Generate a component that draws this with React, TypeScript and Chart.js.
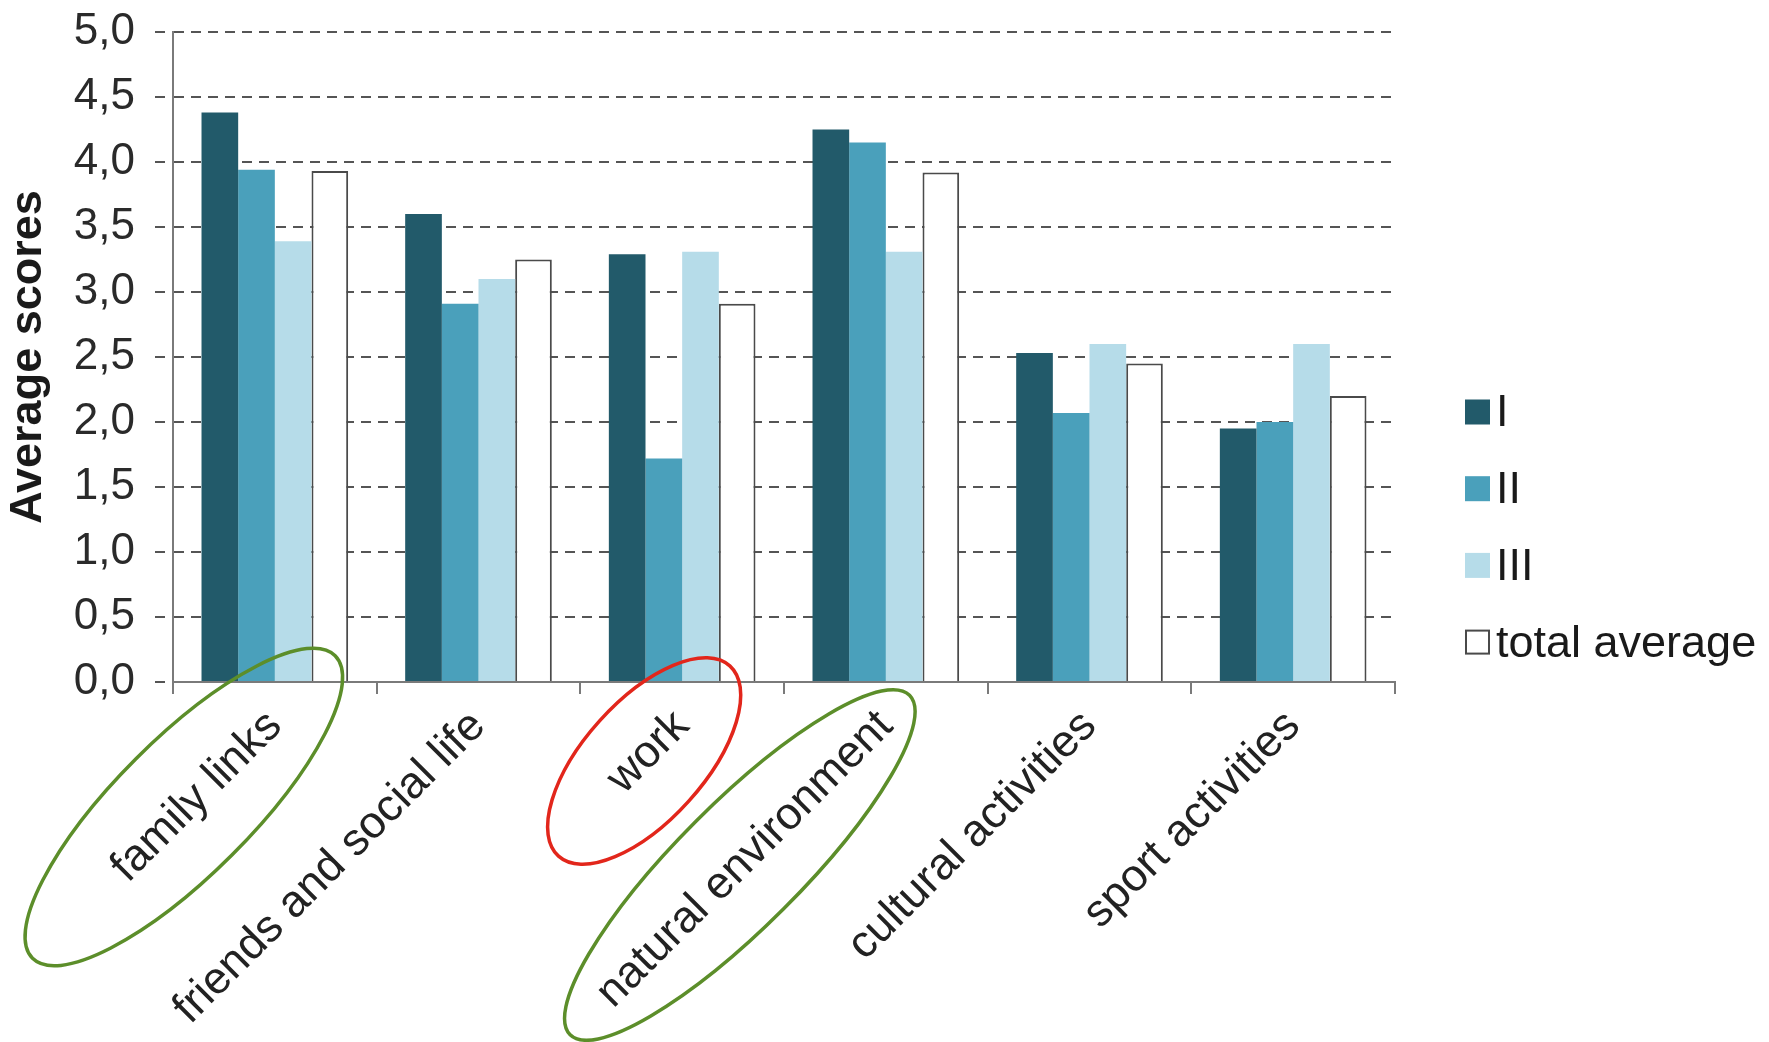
import React, { useEffect, useRef } from 'react';
import { Chart, registerables } from 'chart.js';

Chart.register(...registerables);

// Areas of life that were scored
const categories = [
  'family links',
  'friends and social life',
  'work',
  'natural environment',
  'cultural activities',
  'sport activities',
];

// Average scores per group
const groupI = [4.38, 3.6, 3.29, 4.25, 2.53, 1.95];
const groupII = [3.94, 2.91, 1.72, 4.15, 2.07, 2.0];
const groupIII = [3.39, 3.1, 3.31, 3.31, 2.6, 2.6];
const totalAverage = [3.93, 3.25, 2.91, 3.92, 2.45, 2.2];

const seriesNames = ['I', 'II', 'III', 'total average'];
const yAxisTitle = 'Average scores';
const yMin = 0;
const yMax = 5;
const yStep = 0.5;

// Categories circled below the axis (index into categories)
const positiveHighlights = [0, 3];
const negativeHighlights = [2];

const FONT = "'Liberation Sans', Arial, sans-serif";
const W = 1769;
const H = 1042;

const colors = ['#225A6A', '#4AA0BB', '#B6DCE9', '#FFFFFF'];

// Ellipse geometry relative to the category's tick and the x axis line
const ellipseShape: Record<number, { dx: number; dy: number; rx: number; ry: number; angle: number }> = {
  0: { dx: -91, dy: 125, rx: 214, ry: 68, angle: -45 },
  2: { dx: -38, dy: 79, rx: 128, ry: 60, angle: -48 },
  3: { dx: -146, dy: 183, rx: 240, ry: 62, angle: -45 },
};

const highlightPlugin = {
  id: 'highlightEllipses',
  afterDraw(chart: any) {
    const { ctx, scales } = chart;
    const xs = scales.x;
    const base = chart.chartArea.bottom;
    const draw = (idx: number, color: string) => {
      const s = ellipseShape[idx];
      if (!s) return;
      const cx = xs.getPixelForValue(idx) + s.dx;
      const cy = base + s.dy;
      ctx.save();
      ctx.strokeStyle = color;
      ctx.lineWidth = 3.5;
      ctx.beginPath();
      ctx.ellipse(cx, cy, s.rx, s.ry, (s.angle * Math.PI) / 180, 0, Math.PI * 2);
      ctx.stroke();
      ctx.restore();
    };
    positiveHighlights.forEach((i) => draw(i, '#5C8E2A'));
    negativeHighlights.forEach((i) => draw(i, '#E2261B'));
  },
};

const legendPlugin = {
  id: 'sideLegend',
  afterDraw(chart: any) {
    const { ctx } = chart;
    const x = 1465;
    const top = 412;
    const step = 76.7;
    ctx.save();
    ctx.font = `45px ${FONT}`;
    ctx.textBaseline = 'middle';
    ctx.textAlign = 'left';
    chart.data.datasets.forEach((ds: any, i: number) => {
      const cy = top + i * step;
      const size = 25;
      if (ds.borderWidth) {
        ctx.fillStyle = ds.backgroundColor;
        ctx.fillRect(x + 1, cy - size / 2 + 1, size - 2, size - 2);
        ctx.strokeStyle = ds.borderColor;
        ctx.lineWidth = 2;
        ctx.strokeRect(x + 1, cy - size / 2 + 1, size - 2, size - 2);
      } else {
        ctx.fillStyle = ds.backgroundColor;
        ctx.fillRect(x, cy - size / 2, size, size);
      }
      ctx.fillStyle = '#1a1a1a';
      ctx.fillText(ds.label, x + size + 6, cy + 2);
    });
    ctx.restore();
  },
};

export default function App() {
  const canvasRef = useRef<HTMLCanvasElement | null>(null);

  useEffect(() => {
    const canvas = canvasRef.current;
    if (!canvas) return;
    const series = [groupI, groupII, groupIII, totalAverage];
    const chart = new Chart(canvas, {
      type: 'bar',
      data: {
        labels: categories,
        datasets: series.map((values, i) => ({
          label: seriesNames[i],
          data: values,
          backgroundColor: colors[i],
          borderColor: i === 3 ? '#4A4A4A' : colors[i],
          borderWidth: i === 3 ? 2 : 0,
          categoryPercentage: 0.72,
          barPercentage: 1.0,
        })),
      },
      options: {
        animation: false,
        responsive: false,
        devicePixelRatio: 1,
        layout: { padding: { top: 32, right: W - 1395, left: 0, bottom: 0 } },
        plugins: {
          legend: { display: false },
          tooltip: { enabled: false },
        },
        scales: {
          x: {
            afterFit(scale: any) {
              scale.height = H - 682;
            },
            grid: {
              display: true,
              drawOnChartArea: false,
              drawTicks: true,
              tickLength: 12,
              color: '#7a7a7a',
              lineWidth: 2,
            },
            border: { display: true, color: '#7a7a7a', width: 2 },
            ticks: {
              autoSkip: false,
              minRotation: 45,
              maxRotation: 45,
              padding: 6,
              color: '#222222',
              font: { family: FONT, size: 45 },
            },
          },
          y: {
            min: yMin,
            max: yMax,
            afterFit(scale: any) {
              scale.width = 173;
              scale.paddingTop = 0;
              scale.paddingBottom = 0;
            },
            grid: {
              color: '#555555',
              lineWidth: 2,
              tickLength: 18,
              tickBorderDash: [10, 7],
            },
            border: { display: true, color: '#7a7a7a', width: 2, dash: [10, 7] },
            ticks: {
              stepSize: yStep,
              padding: 20,
              color: '#2a2a2a',
              font: { family: FONT, size: 44 },
              callback: (v: any) => Number(v).toFixed(1).replace('.', ','),
            },
            title: {
              display: true,
              text: yAxisTitle,
              color: '#1a1a1a',
              font: { family: FONT, size: 45, weight: 'bold' },
              padding: { top: 2, bottom: 0 },
            },
          },
        },
      },
      plugins: [highlightPlugin, legendPlugin],
    });
    return () => chart.destroy();
  }, []);

  return (
    <div style={{ position: 'absolute', left: 0, top: 0, width: W, height: H, background: '#ffffff' }}>
      <canvas ref={canvasRef} width={W} height={H} style={{ display: 'block' }} />
    </div>
  );
}
